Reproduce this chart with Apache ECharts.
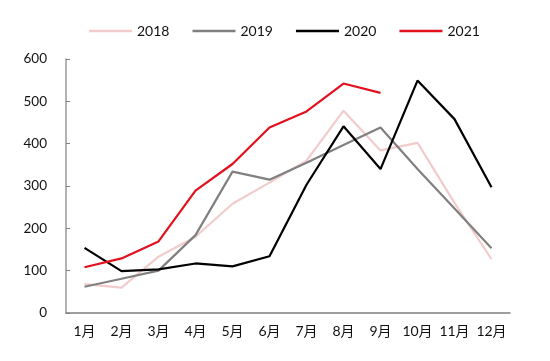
<!DOCTYPE html>
<html>
<head>
<meta charset="utf-8">
<script src="https://cdn.jsdelivr.net/npm/echarts@6/dist/echarts.min.js"></script>
<style>
html,body{margin:0;padding:0;background:#fff;}
#main{width:550px;height:361px;}
</style>
</head>
<body>
<div id="main"></div>
<script>
var categories = ['1月','2月','3月','4月','5月','6月','7月','8月','9月','10月','11月','12月'];
var seriesNames = ['2018','2019','2020','2021'];
var data2018 = [68, 60, 133, 180, 258, 308, 360, 478, 384, 402, 260, 127];
var data2019 = [62, 81, 100, 184, 334, 315, 355, 397, 438, 340, 247, 153];
var data2020 = [154, 99, 103, 117, 110, 134, 303, 441, 340, 549, 458, 297];
var data2021 = [108, 129, 169, 289, 352, 438, 476, 542, 520];
var yTicks = [0, 100, 200, 300, 400, 500, 600];

var colors = ['#f2cccc', '#808080', '#000000', '#e3101e'];
var allData = [data2018, data2019, data2020, data2021];
var fontFam = 'Lato, "Noto Sans CJK SC", sans-serif';

var chart = echarts.init(document.getElementById('main'), null, {renderer: 'canvas'});
chart.setOption({
  animation: false,
  backgroundColor: '#ffffff',
  grid: {left: 66, right: 40, top: 59, bottom: 48, containLabel: false},
  legend: {
    data: seriesNames,
    top: 19,
    left: 84,
    icon: 'rect',
    itemWidth: 43,
    itemHeight: 2.5,
    itemGap: 23,
    textStyle: {fontFamily: fontFam, fontSize: 14, color: '#111'}
  },
  xAxis: {
    type: 'category',
    data: categories,
    boundaryGap: true,
    axisLine: {lineStyle: {color: '#7f7f7f', width: 1.5}},
    axisTick: {inside: true, length: 4, lineStyle: {color: '#7f7f7f'}},
    axisLabel: {fontFamily: fontFam, fontSize: 14, color: '#111', margin: 11, interval: 0},
    splitLine: {show: false}
  },
  yAxis: {
    type: 'value',
    min: yTicks[0],
    max: yTicks[yTicks.length - 1],
    interval: 100,
    axisLine: {show: true, lineStyle: {color: '#999999', width: 1.5}},
    axisTick: {show: true, inside: true, length: 4, lineStyle: {color: '#7f7f7f'}},
    axisLabel: {fontFamily: fontFam, fontSize: 13.5, color: '#111', margin: 19},
    splitLine: {show: false}
  },
  series: seriesNames.map(function (n, i) {
    return {
      name: n,
      type: 'line',
      data: allData[i],
      symbol: 'none',
      smooth: false,
      itemStyle: {color: colors[i]},
      lineStyle: {color: colors[i], width: 2.2}
    };
  })
});
</script>
</body>
</html>
